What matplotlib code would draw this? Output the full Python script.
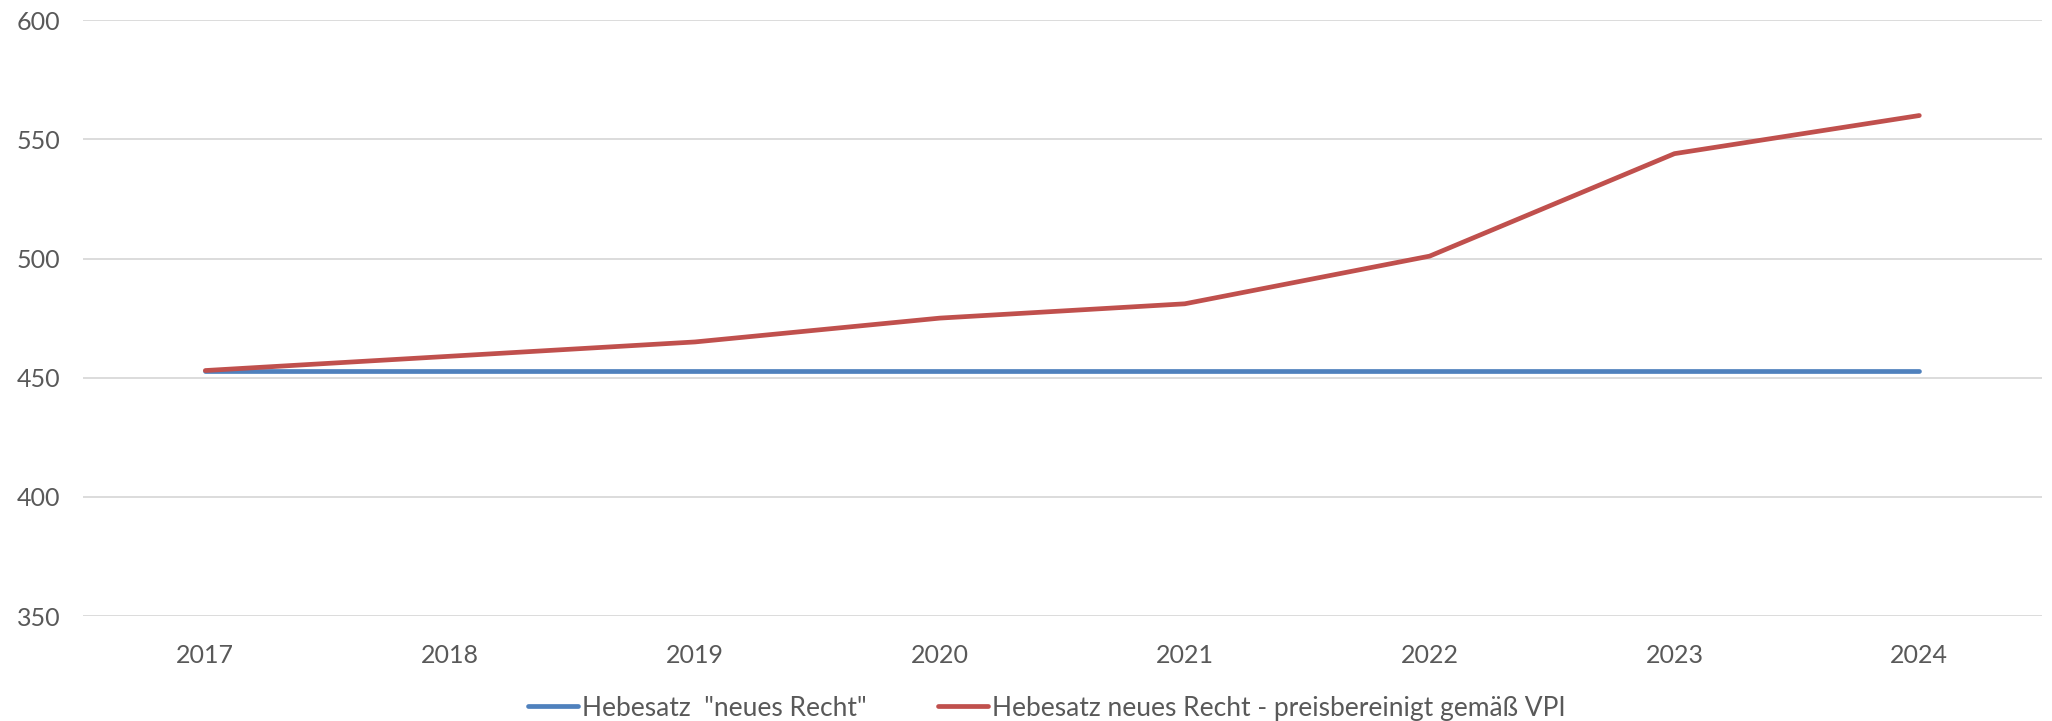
import matplotlib
matplotlib.use("Agg")
import matplotlib.pyplot as plt

# ── Data ──────────────────────────────────────────────────────────────────────
years = ["2017", "2018", "2019", "2020", "2021", "2022", "2023", "2024"]
hebesatz_neu = [453, 453, 453, 453, 453, 453, 453, 453]
hebesatz_vpi = [453, 459, 465, 475, 481, 501, 544, 560]
y_ticks = [350, 400, 450, 500, 550, 600]

BLUE = "#4F81BD"
RED = "#C0504D"
TEXT = "#595959"
GRID = "#D9D9D9"

plt.rcParams["font.family"] = ["Lato", "DejaVu Sans"]

fig = plt.figure(figsize=(20.52, 7.21), dpi=100)
ax = fig.add_axes([0.0404, 0.1456, 0.9546, 0.8264])

x = range(len(years))
ax.plot(x, hebesatz_neu, color=BLUE, lw=3.4, solid_capstyle="round",
        label='Hebesatz  "neues Recht"', zorder=3)
ax.plot(x, hebesatz_vpi, color=RED, lw=3.4, solid_capstyle="round",
        label="Hebesatz neues Recht - preisbereinigt gemäß VPI", zorder=4)

ax.set_xlim(-0.5, len(years) - 0.5)
ax.set_ylim(350, 600)
ax.set_xticks(list(x))
ax.set_xticklabels(years)
ax.set_yticks(y_ticks)

ax.grid(axis="y", color=GRID, lw=1.3)
ax.set_axisbelow(True)
for s in ax.spines.values():
    s.set_visible(False)
ax.tick_params(axis="both", length=0, labelsize=18, labelcolor=TEXT)
ax.tick_params(axis="y", pad=16)
ax.tick_params(axis="x", pad=20)

leg = fig.legend(loc="center", bbox_to_anchor=(0.51, 0.018), ncol=2,
                 frameon=False, fontsize=19, handlelength=1.9,
                 handletextpad=0.15, columnspacing=2.7)
for t in leg.get_texts():
    t.set_color(TEXT)

fig.savefig("out.png", dpi=100)
